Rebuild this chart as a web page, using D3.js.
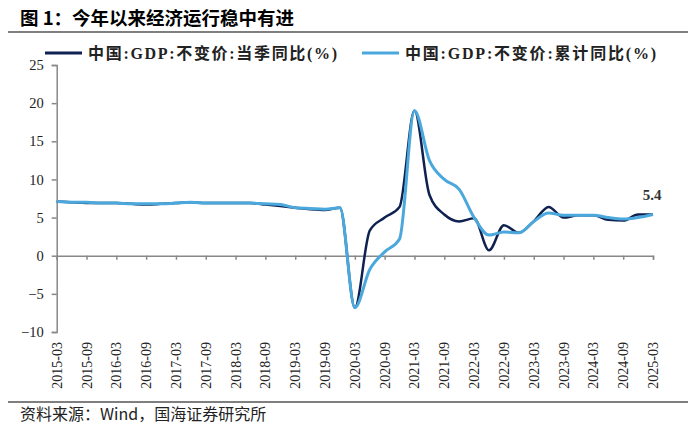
<!DOCTYPE html>
<html>
<head>
<meta charset="utf-8">
<script src="https://cdn.jsdelivr.net/npm/d3@7"></script>
<style>
  body { margin: 0; background: #fff; }
  svg { display: block; }
</style>
</head>
<body>
<div id="chart"></div>
<script>
// quarters, 2015-03 .. 2025-03
var quarters = [
  "2015-03","2015-06","2015-09","2015-12",
  "2016-03","2016-06","2016-09","2016-12",
  "2017-03","2017-06","2017-09","2017-12",
  "2018-03","2018-06","2018-09","2018-12",
  "2019-03","2019-06","2019-09","2019-12",
  "2020-03","2020-06","2020-09","2020-12",
  "2021-03","2021-06","2021-09","2021-12",
  "2022-03","2022-06","2022-09","2022-12",
  "2023-03","2023-06","2023-09","2023-12",
  "2024-03","2024-06","2024-09","2024-12",
  "2025-03"
];

// 中国:GDP:不变价:当季同比(%)
var gdpQuarter = [
  7.1, 7.0, 6.9, 6.9,
  6.9, 6.8, 6.7, 6.8,
  6.9, 7.0, 6.9, 6.9,
  6.9, 6.9, 6.7, 6.5,
  6.3, 6.1, 6.0, 6.3,
  -6.8, 3.3, 5.0, 6.4,
  19.0, 8.0, 5.4, 4.5,
  4.9, 0.7, 4.0, 3.0,
  4.5, 6.4, 5.0, 5.3,
  5.3, 4.7, 4.6, 5.4,
  5.4
];

// 中国:GDP:不变价:累计同比(%)
var gdpCumul = [
  7.1, 7.0, 7.0, 6.9,
  6.9, 6.8, 6.8, 6.8,
  6.9, 7.0, 6.9, 6.9,
  6.9, 6.9, 6.8, 6.7,
  6.3, 6.2, 6.1, 6.3,
  -6.8, -1.8, 0.5, 2.2,
  19.0, 12.5, 10.0, 8.7,
  5.0, 2.7, 3.1, 3.0,
  4.5, 5.6, 5.3, 5.3,
  5.3, 5.0, 4.8, 5.0,
  5.4
];

var yTicks = [-10, -5, 0, 5, 10, 15, 20, 25];
var xTickLabels = quarters.filter(function(q, i) { return i % 2 === 0; });

var seriesNames = ["中国:GDP:不变价:当季同比(%)", "中国:GDP:不变价:累计同比(%)"];
var colors = ["#0e2150", "#4aa8dc"];

var W = 700, H = 441;
var serif = "'Liberation Serif', 'Times New Roman', 'Noto Sans CJK SC', serif";
var cjk = "'Noto Sans CJK SC', sans-serif";

var svg = d3.select("#chart").append("svg")
  .attr("width", W).attr("height", H);

svg.append("rect").attr("width", W).attr("height", H).attr("fill", "#fff");

// title + rules
svg.append("text")
  .attr("x", 20).attr("y", 25)
  .style("font-family", cjk).style("font-size", "18.5px").style("font-weight", "bold")
  .attr("fill", "#000")
  .text("图 1：今年以来经济运行稳中有进");

svg.append("line").attr("x1", 8).attr("x2", 688).attr("y1", 32).attr("y2", 32)
  .attr("stroke", "#7f7f7f").attr("stroke-width", 2);

svg.append("line").attr("x1", 8).attr("x2", 688).attr("y1", 402).attr("y2", 402)
  .attr("stroke", "#7f7f7f").attr("stroke-width", 2);

svg.append("text")
  .attr("x", 20).attr("y", 420)
  .style("font-family", cjk).style("font-size", "16px")
  .attr("fill", "#222")
  .text("资料来源：Wind，国海证券研究所");

// scales
var x = d3.scalePoint().domain(quarters).range([56.7, 653]);
var y = d3.scaleLinear().domain([-10, 25]).range([332, 65]);

// y axis
var yAxis = svg.append("g")
  .attr("transform", "translate(56.7,0)")
  .call(d3.axisLeft(y).tickValues(yTicks).tickSize(5).tickPadding(8));
yAxis.select(".domain").attr("stroke", "#888").attr("stroke-width", 1.5);
yAxis.selectAll(".tick line").attr("stroke", "#888").attr("stroke-width", 1.5);
yAxis.selectAll(".tick text")
  .style("font-family", serif).style("font-size", "14.5px").attr("fill", "#222");

// x axis on zero line
var xAxis = svg.append("g")
  .attr("transform", "translate(0," + y(0) + ")")
  .call(d3.axisBottom(x).tickValues(xTickLabels).tickSize(4).tickFormat(""));
xAxis.select(".domain").attr("stroke", "#888").attr("stroke-width", 1.5);
xAxis.selectAll(".tick line").attr("stroke", "#888").attr("stroke-width", 1.5);

// rotated date labels at bottom
svg.append("g").selectAll("text")
  .data(xTickLabels)
  .join("text")
  .attr("transform", function(d) { return "translate(" + (x(d) + 5) + ",342) rotate(-90)"; })
  .attr("text-anchor", "end")
  .style("font-family", serif).style("font-size", "14px").attr("fill", "#222")
  .text(function(d) { return d; });

// lines
var line = d3.line()
  .x(function(d, i) { return x(quarters[i]); })
  .y(function(d) { return y(d); })
  .curve(d3.curveMonotoneX);

svg.append("path").datum(gdpQuarter)
  .attr("d", line).attr("fill", "none")
  .attr("stroke", colors[0]).attr("stroke-width", 2.5);

svg.append("path").datum(gdpCumul)
  .attr("d", line).attr("fill", "none")
  .attr("stroke", colors[1]).attr("stroke-width", 3);

// last value label
svg.append("text")
  .attr("x", x(quarters[quarters.length - 1]) - 1)
  .attr("y", y(gdpQuarter[gdpQuarter.length - 1]) - 15)
  .attr("text-anchor", "middle")
  .style("font-family", serif).style("font-size", "15px").style("font-weight", "bold")
  .attr("fill", "#333")
  .text(d3.format(".1f")(gdpQuarter[gdpQuarter.length - 1]));

// legend
var legendPos = [{ lx: 45, tx: 88, w: 249 }, { lx: 362, tx: 405, w: 251 }];
seriesNames.forEach(function(name, i) {
  var p = legendPos[i];
  svg.append("line")
    .attr("x1", p.lx).attr("x2", p.lx + 37).attr("y1", 53).attr("y2", 53)
    .attr("stroke", colors[i]).attr("stroke-width", 3);
  svg.append("text")
    .attr("x", p.tx).attr("y", 58.5)
    .attr("textLength", p.w).attr("lengthAdjust", "spacing")
    .style("font-family", serif).style("font-size", "16px").style("font-weight", "bold")
    .attr("fill", "#222")
    .text(name);
});
</script>
</body>
</html>
